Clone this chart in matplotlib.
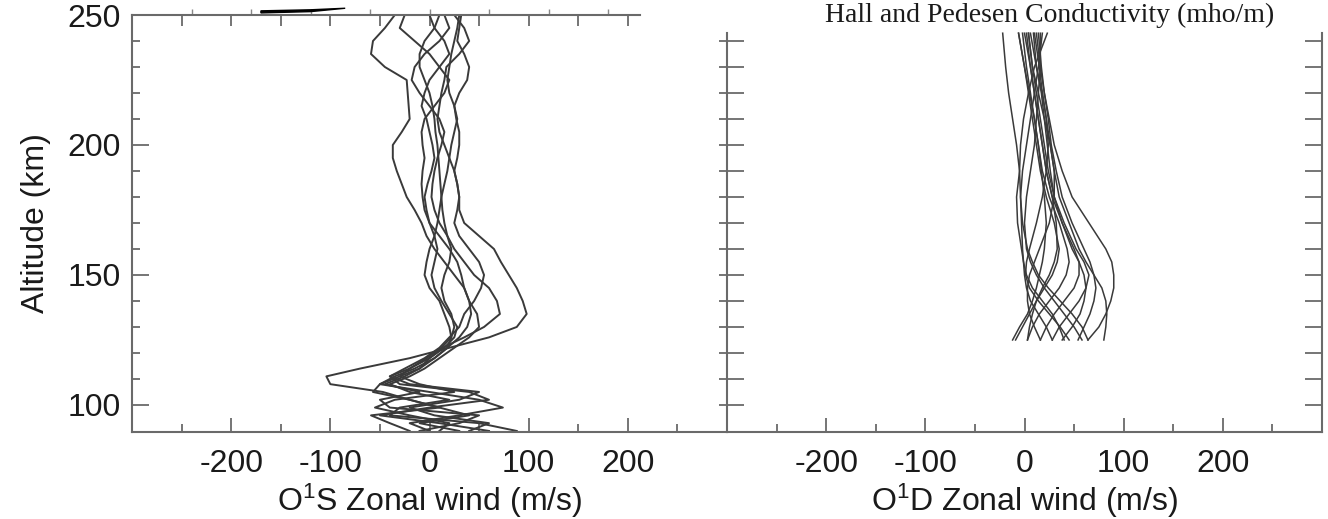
import matplotlib
matplotlib.use("Agg")
import matplotlib.pyplot as plt
import numpy as np

plt.rcParams['font.family'] = ['Liberation Sans', 'DejaVu Sans']
plt.rcParams['mathtext.default'] = 'regular'
plt.rcParams['axes.unicode_minus'] = False

# ---- left panel: O1S zonal wind profiles ----
alt_s = [250, 245, 240, 235, 230, 225, 220, 215, 210, 205, 200, 195, 190, 185,
         180, 175, 170, 165, 160, 155, 150, 145, 140, 135, 130, 126, 122, 118,
         114, 111, 108, 105, 102, 99, 96, 93, 90]
wind_s1 = [25, 35, 40, 30, 17, 15, 12, 10, 8, 10, 15, 20, 25, 28, 30, 30, 35, 50,
           65, 72, 80, 88, 94, 98, 88, 60, 20, -20, -70, -104, -100, -47, -20, 10,
           40, -10, 30]
wind_s2 = [10, 5, -5, -10, -10, -5, 0, 3, 5, 6, 8, 9, 10, 11, 12, 13, 15, 18, 25,
           35, 45, 60, 68, 71, 55, 35, 13, 0, -10, -30, -50, 0, 50, 74, 30, -20, 0]
wind_s3 = [-35, -45, -57, -59, -45, -23, -22, -21, -20, -28, -37, -37, -33, -28,
           -23, -15, -8, -3, 5, 15, 25, 35, 40, 42, 38, 30, 18, 5, -15, -35, -50,
           -57, -20, 10, -59, -40, -20]
wind_s4 = [-25, -30, -15, 0, 10, 20, 15, 5, -5, -8, -7, -5, -7, -8, -7, -5, 0, 5,
           8, 5, 2, 5, 12, 20, 28, 25, 15, 0, -20, -40, -30, 40, 60, 0, -50, 10, 60]
wind_s5 = [0, 5, 15, 20, 10, 0, -5, -8, -3, 0, 3, 5, 2, -2, -5, -3, 0, 10, 20, 28,
           32, 35, 40, 48, 50, 40, 25, 10, -5, -20, -40, -20, 20, -30, -40, 50, 88]
wind_s6 = [30, 28, 25, 22, 20, 18, 20, 25, 28, 25, 22, 20, 18, 15, 12, 10, 8, 5,
           0, -3, -5, 0, 10, 15, 20, 22, 18, 5, -10, -25, -45, -10, -50, -40, 50,
           30, -10]
wind_s7 = [32, 30, 28, 35, 40, 38, 30, 25, 27, 30, 30, 28, 25, 28, 30, 28, 25, 30,
           40, 50, 55, 52, 45, 35, 30, 20, 10, -5, -25, -40, -20, 50, 30, -20, 5,
           60, 40]
wind_s8 = [15, 20, 10, -5, -15, -18, -10, 0, 10, 15, 12, 8, 5, 3, 2, 5, 10, 18, 22,
           20, 15, 12, 15, 22, 25, 22, 12, -3, -20, -30, -10, 25, -35, -55, -20, 20,
           10]
o1s_profiles = [wind_s1, wind_s2, wind_s3, wind_s4, wind_s5, wind_s6, wind_s7, wind_s8]

# stray wedge above the left frame
wedge_u = [-170, -120, -85, -120, -170]
wedge_alt = [250.8, 251.3, 252.6, 252.0, 251.6]
# stray tick stubs above the left frame
stub_ticks = [-240, -180, -120, -60, 0, 60, 120, 180]

# ---- right panel: O1D zonal wind profiles ----
alt_d = [125, 130, 135, 140, 145, 150, 155, 160, 170, 180, 190, 200, 210, 220, 230, 243]
o1d_profiles = [
    [80, 82, 83, 82, 78, 70, 62, 55, 45, 35, 30, 26, 22, 18, 15, 10],
    [64, 75, 82, 87, 90, 90, 88, 82, 65, 48, 38, 30, 25, 20, 17, 14],
    [54, 60, 66, 70, 72, 70, 66, 60, 48, 38, 32, 27, 24, 20, 16, 12],
    [38, 48, 56, 60, 62, 60, 55, 48, 38, 30, 26, 23, 20, 17, 12, 6],
    [28, 35, 45, 55, 62, 65, 60, 52, 40, 30, 24, 20, 16, 12, 8, 4],
    [16, 22, 30, 40, 50, 55, 55, 50, 38, 28, 22, 18, 14, 10, 6, 2],
    [3, 8, 15, 25, 35, 42, 45, 43, 35, 25, 18, 14, 10, 6, 2, -2],
    [-9, -2, 5, 12, 20, 28, 33, 35, 30, 22, 16, 12, 8, 4, 0, -6],
    [-12, -5, 3, 8, 12, 15, 18, 20, 22, 20, 17, 14, 10, 5, 0, -6],
    [58, 50, 40, 30, 20, 12, 6, 2, 0, 2, 6, 10, 12, 14, 16, 16],
    [64, 58, 48, 36, 24, 14, 8, 3, -2, -4, -2, 2, 6, 10, 14, 18],
    [40, 35, 28, 18, 8, 2, -1, -2, -3, -4, -5, -4, -1, 4, 10, 23],
    [28, 22, 14, 6, 2, 0, -1, -3, -7, -8, -5, -8, -12, -16, -19, -22],
    [45, 36, 25, 14, 5, 1, 2, 5, 12, 18, 22, 24, 22, 18, 12, 9],
    [16, 10, 5, 3, 3, 5, 10, 15, 25, 30, 30, 26, 20, 14, 8, 4],
    [3, 5, 8, 12, 18, 25, 30, 33, 32, 28, 22, 18, 14, 10, 6, 0],
]

x_major = [-200, -100, 0, 100, 200]
x_minor = [-250, -150, -50, 50, 150, 250]
top_ticks = [-250, -200, -150, -100, -50, 0, 50, 100, 150, 200]
y_major = [100, 150, 200, 250]
y_minor = [110, 120, 130, 140, 160, 170, 180, 190, 210, 220, 230, 240]
y_cut_ticks = [100, 110, 120, 130, 140, 150, 160, 170, 180, 190, 200, 210, 220, 230, 240]

frame_col = '#6a6a6a'
line_col = '#3a3a3a'
fs = 23

fig = plt.figure(figsize=(13.28, 5.19), dpi=100)
axl = fig.add_axes([132/1328, 87/519, 595/1328, 417/519])
axr = fig.add_axes([727/1328, 87/519, 595/1328, 417/519])

for ax in (axl, axr):
    ax.set_xlim(-300, 300)
    ax.set_ylim(89.6, 250)
    for sp in ax.spines.values():
        sp.set_color(frame_col)
        sp.set_linewidth(1.5)
    ax.set_xticks(x_major)
    ax.set_xticks(x_minor, minor=True)
    ax.tick_params(axis='x', which='both', direction='in', colors=frame_col,
                   labelcolor='#1a1a1a', labelsize=fs, pad=12, top=False)
    ax.tick_params(axis='x', which='major', length=10, width=1.3)
    ax.tick_params(axis='x', which='minor', length=6, width=1.3)

# left panel
for w in o1s_profiles:
    axl.plot(w, alt_s, color=line_col, lw=1.4)
axl.fill(wedge_u, wedge_alt, color='black', clip_on=False)
axl.set_yticks(y_major)
axl.set_yticks(y_minor, minor=True)
axl.tick_params(axis='y', which='both', direction='in', colors=frame_col,
                labelcolor='#1a1a1a', labelsize=fs, pad=8, right=False)
axl.tick_params(axis='y', which='major', length=12, width=1.3)
axl.tick_params(axis='y', which='minor', length=6, width=1.3)
axl.spines['right'].set_visible(False)
axl.spines['top'].set_bounds(-300, 212)
axl.set_xlabel('O$^1$S Zonal wind (m/s)', fontsize=fs, color='#1a1a1a', labelpad=2)
axl.set_ylabel('Altitude (km)', fontsize=fs, color='#1a1a1a', labelpad=12)

top_in = axl.secondary_xaxis('top')
top_in.set_xticks(top_ticks)
top_in.tick_params(direction='in', length=8, width=1.3, colors=frame_col, labeltop=False)
top_in.spines['top'].set_visible(False)

top_out = axl.secondary_xaxis('top')
top_out.set_xticks(stub_ticks)
top_out.tick_params(direction='out', length=4, width=1.0, colors='#888888', labeltop=False)
top_out.spines['top'].set_visible(False)

right_in = axl.secondary_yaxis('right')
right_in.set_yticks(y_cut_ticks)
right_in.tick_params(direction='in', length=6, width=1.3, colors=frame_col, labelright=False)
right_in.spines['right'].set_visible(False)

# right panel
for w in o1d_profiles:
    axr.plot(w, alt_d, color=line_col, lw=1.1)
axr.spines['top'].set_visible(False)
axr.spines['left'].set_bounds(89.6, 243)
axr.spines['right'].set_bounds(89.6, 243)
axr.set_yticks(y_cut_ticks)
axr.tick_params(axis='y', which='both', direction='in', length=12, width=1.3,
                colors=frame_col, labelleft=False, left=True, right=True)
axr.set_xlabel('O$^1$D Zonal wind (m/s)', fontsize=fs, color='#1a1a1a', labelpad=2)

fig.text(1050/1328, 1 - 15/519, 'Hall and Pedesen Conductivity (mho/m)',
         family='Liberation Serif', fontsize=20, color='#1a1a1a',
         ha='center', va='center')

fig.savefig('out.png', dpi=100)
